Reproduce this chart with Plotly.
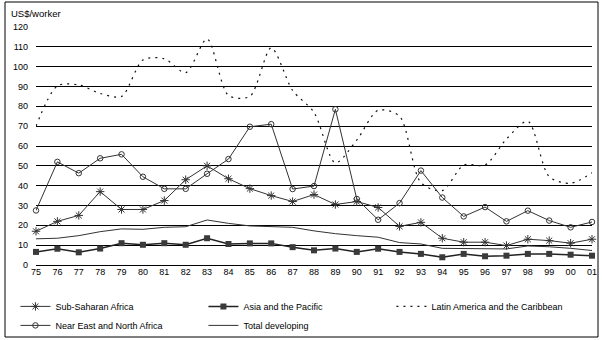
import plotly.graph_objects as go

years = ["75","76","77","78","79","80","81","82","83","84","85","86","87","88","89",
         "90","91","92","93","94","95","96","97","98","99","00","01"]

sub_saharan = [17, 22, 25, 37, 28, 28, 32.5, 43, 50, 43.5, 38.5, 35, 32, 35.5, 30.5,
               32, 29, 19.5, 21.5, 13.5, 11.5, 11.5, 9.8, 13, 12.3, 11, 13]
asia_pacific = [6.6, 8.2, 6.4, 8.3, 11, 10.2, 11, 10.2, 13.5, 10.6, 10.9, 10.9, 9, 7.4, 8.3,
                6.6, 8.2, 6.6, 5.6, 3.9, 5.6, 4.4, 4.7, 5.6, 5.6, 5.2, 4.7]
latin_america = [70, 90.3, 90.8, 86.5, 85, 103.4, 104, 97, 114, 85.5, 85, 109.5, 88, 77, 51.5,
                 63, 78, 75, 41.5, 37.5, 50.4, 50.4, 63.5, 72.5, 44.5, 41.2, 46.5]
near_east = [27.5, 52, 46.3, 53.8, 55.8, 44.5, 38.4, 38.4, 46, 53.4, 69.7, 71, 38.3, 39.8, 78.5,
             33.3, 22.8, 31.2, 47.6, 34, 24.5, 29.2, 22, 27.4, 22.4, 19, 21.7]
total_dev = [13.2, 13.5, 14.8, 16.8, 18.2, 18, 19, 19.3, 22.7, 21, 19.7, 19.3, 19, 17.2, 15.8,
             14.8, 14, 11.3, 10.6, 8.4, 8.4, 8.1, 8.1, 9.6, 9.2, 8.4, 7.3]

y_ticks = list(range(0, 121, 10))

x = list(range(len(years)))
FONT = "Liberation Sans, Arial, sans-serif"

fig = go.Figure()
fig.add_trace(go.Scatter(
    x=x, y=sub_saharan, name="Sub-Saharan Africa", mode="lines+markers",
    line=dict(color="#333333", width=1),
    marker=dict(symbol="asterisk-open", size=7, color="#333333", line=dict(width=1, color="#333333")),
    cliponaxis=False))
fig.add_trace(go.Scatter(
    x=x, y=asia_pacific, name="Asia and the Pacific", mode="lines+markers",
    line=dict(color="#222222", width=1.5),
    marker=dict(symbol="square", size=6, color="#3a3a3a"),
    cliponaxis=False))
fig.add_trace(go.Scatter(
    x=x, y=latin_america, name="Latin America and the Caribbean", mode="lines",
    line=dict(color="#111111", width=1.2, dash="2px,5px", shape="spline", smoothing=0.8),
    cliponaxis=False))
fig.add_trace(go.Scatter(
    x=x, y=near_east, name="Near East and North Africa", mode="lines+markers",
    line=dict(color="#333333", width=1),
    marker=dict(symbol="circle-open", size=5.5, color="#333333", line=dict(width=1, color="#333333")),
    cliponaxis=False))
fig.add_trace(go.Scatter(
    x=x, y=total_dev, name="Total developing", mode="lines",
    line=dict(color="#333333", width=1),
    cliponaxis=False))

fig.update_layout(
    width=602, height=340,
    margin=dict(l=36, r=10, t=27, b=75, autoexpand=False),
    paper_bgcolor="white", plot_bgcolor="white",
    font=dict(family=FONT, size=9, color="black"),
    showlegend=True,
    legend=dict(orientation="h", x=-0.037, xanchor="left", y=-0.113, yanchor="top",
                entrywidth=143, entrywidthmode="pixels", traceorder="normal",
                font=dict(family=FONT, size=9, color="black"),
                itemwidth=30, tracegroupgap=0, bgcolor="rgba(0,0,0,0)"),
    xaxis=dict(range=[0, 26], tickmode="array", tickvals=x, ticktext=years,
               showgrid=False, zeroline=False, showline=False, ticks="",
               tickfont=dict(family=FONT, size=9), fixedrange=True, automargin=False),
    yaxis=dict(range=[0, 120], tickmode="array", tickvals=y_ticks,
               showgrid=True, gridcolor="black", gridwidth=1,
               zeroline=True, zerolinecolor="black", zerolinewidth=1,
               showline=False, ticks="", ticklabelstandoff=7,
               tickfont=dict(family=FONT, size=9), fixedrange=True, automargin=False),
    shapes=[dict(type="rect", xref="paper", yref="paper",
                 x0=(5 - 36) / 556, x1=(598 - 36) / 556,
                 y0=(265 - 337) / 238, y1=(265 - 2) / 238,
                 line=dict(color="black", width=1), fillcolor="rgba(0,0,0,0)", layer="below")],
    annotations=[dict(text="US$/worker", xref="paper", yref="paper",
                      x=(9 - 36) / 556, y=(265 - 14) / 238, xanchor="left", yanchor="middle",
                      showarrow=False, font=dict(family=FONT, size=9.5, color="black"))],
)

fig.write_html("out.html")
